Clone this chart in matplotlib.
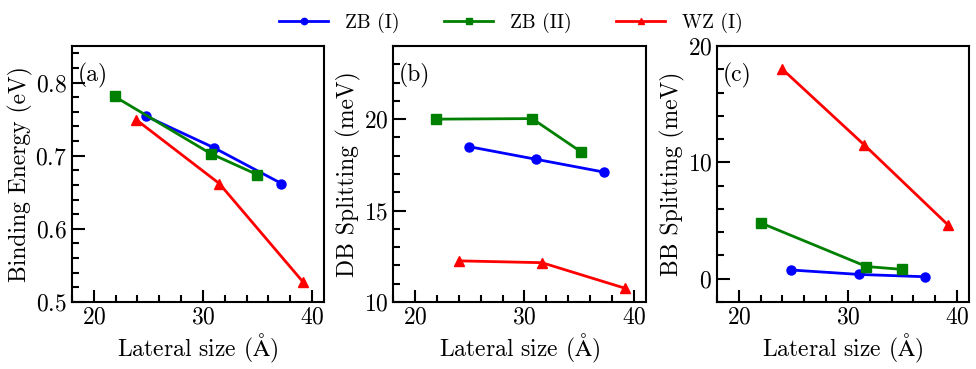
import matplotlib
matplotlib.use("Agg")
import matplotlib.pyplot as plt
from matplotlib.ticker import MultipleLocator

plt.rcParams['font.family'] = ['cmr10', 'DejaVu Serif']
plt.rcParams['mathtext.fontset'] = 'cm'
plt.rcParams['axes.formatter.use_mathtext'] = True
plt.rcParams['axes.unicode_minus'] = False

series = ["ZB (I)", "ZB (II)", "WZ (I)"]
colors = ["blue", "green", "red"]
markers = ["o", "s", "^"]

# Panel (a): Binding energy (eV)
a_x = [[24.8, 31.0, 37.2], [21.9, 30.7, 35.0], [23.9, 31.5, 39.2]]
a_y = [[0.754, 0.711, 0.662], [0.781, 0.703, 0.674], [0.749, 0.662, 0.527]]
# Panel (b): DB splitting (meV)
b_x = [[24.9, 31.1, 37.3], [21.9, 30.7, 35.2], [24.0, 31.6, 39.2]]
b_y = [[18.5, 17.8, 17.1], [20.0, 20.03, 18.2], [12.25, 12.15, 10.75]]
# Panel (c): BB splitting (meV)
c_x = [[24.8, 31.0, 37.1], [22.0, 31.7, 35.0], [24.0, 31.5, 39.2]]
c_y = [[0.75, 0.37, 0.17], [4.8, 1.05, 0.8], [18.0, 11.5, 4.6]]

panel_labels = ["(a)", "(b)", "(c)"]
ylabels = ["Binding Energy (eV)", "DB Splitting (meV)", "BB Splitting (meV)"]
xlabel = r"Lateral size ($\mathrm{\AA}$)"

fig = plt.figure(figsize=(9.76, 3.69), dpi=100)
W, H = 976, 369
boxes = [(72, 46, 324, 302), (393, 46, 646, 302), (717, 46, 969, 302)]
axes = [fig.add_axes([l / W, 1 - b / H, (r - l) / W, (b - t) / H]) for (l, t, r, b) in boxes]

data = [(a_x, a_y), (b_x, b_y), (c_x, c_y)]
ylims = [(0.5, 0.85), (10, 24), (-2, 20)]
ymaj = [0.1, 5, 10]
ymin = [0.02, 1, 2]

fs = 17
handles = []
for i, ax in enumerate(axes):
    xs, ys = data[i]
    for k in range(3):
        h, = ax.plot(xs[k], ys[k], color=colors[k], marker=markers[k], lw=2,
                     ms=6.5, label=series[k])
        if i == 0:
            handles.append(h)
    ax.set_xlim(18, 41.1)
    ax.set_ylim(*ylims[i])
    ax.xaxis.set_major_locator(MultipleLocator(10))
    ax.xaxis.set_minor_locator(MultipleLocator(2))
    ax.yaxis.set_major_locator(MultipleLocator(ymaj[i]))
    ax.yaxis.set_minor_locator(MultipleLocator(ymin[i]))
    ax.tick_params(which='both', direction='in', top=False, right=False,
                   labelsize=fs, width=1.5)
    ax.tick_params(which='major', length=9)
    ax.tick_params(which='minor', length=5)
    for s in ax.spines.values():
        s.set_linewidth(1.5)
    ax.set_xlabel(xlabel, fontsize=fs, labelpad=2)
    ax.set_ylabel(ylabels[i], fontsize=fs, labelpad=2)
    ax.text(0.024, 0.935, panel_labels[i], transform=ax.transAxes, fontsize=fs,
            va='top', ha='left')

fig.legend(handles=handles, loc='center', bbox_to_anchor=(511 / W, 1 - 23 / H),
           ncol=3, frameon=False, fontsize=14, handlelength=2.5,
           columnspacing=2.3, handletextpad=0.88, markerscale=0.7)

fig.savefig("out.png", dpi=100)
